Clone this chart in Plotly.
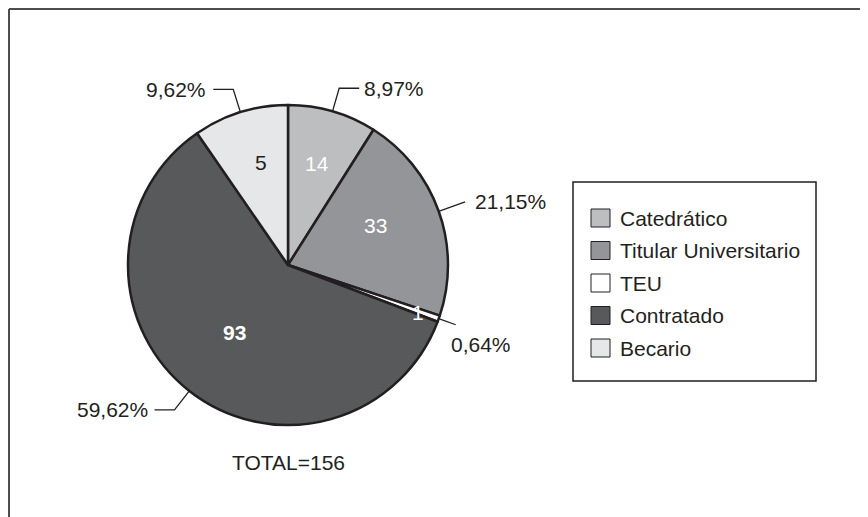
import math
import plotly.graph_objects as go

# ---------------- data ----------------
categories = ["Catedrático", "Titular Universitario", "TEU", "Contratado", "Becario"]
values = [14, 33, 1, 93, 15]
inside_labels = ["14", "33", "1", "93", "5"]
total_label = "TOTAL=156"

# ---------------- style / layout ----------------
W, H = 868, 517
OFF = 8  # page body margin: screen coords = figure coords + OFF
colors = ["#bcbec0", "#939598", "#ffffff", "#58595b", "#e6e7e8"]
ink = "#231f20"
inside_colors = ["white", "white", "white", "white", ink]
inside_bold = [False, False, False, True, False]
FONT = "Liberation Sans, Arial, Helvetica, sans-serif"
FS = 21

# all positions below are in screen pixels
CX, CY, R = 288, 265, 160

# leader line settings per slice: radial extension, horizontal run, label offset
lead_ext = [24, 28, 18, 24, 24]
lead_run = [20, 0, 0, 20, 20]
lab_dx = [3, 8, -7, -5, -5]
lab_dy = [0, 0, 20, 0, 0]
# inside label placement per slice: radius, angle offset (deg)
in_r = [106, 96, 138, 86, 106]
in_da = [0, -5, 0.5, 0, 2.5]

total = sum(values)


def pt(ang_deg, r):
    a = math.radians(ang_deg)
    return CX + r * math.sin(a), CY - r * math.cos(a)


fig = go.Figure()
fig.add_trace(go.Pie(
    labels=categories, values=values, sort=False, direction="clockwise",
    rotation=0, textinfo="none", hoverinfo="label+value+percent",
    marker=dict(colors=colors, line=dict(color=ink, width=2.5)),
    domain=dict(x=[(CX - OFF - R) / W, (CX - OFF + R) / W],
                y=[(H - (CY - OFF) - R) / H, (H - (CY - OFF) + R) / H]),
    showlegend=False,
))
fig.add_trace(go.Scatter(x=[None], y=[None], showlegend=False, hoverinfo="skip"))

shapes = []
annotations = []

# frame lines (figure border, top and left)
shapes.append(dict(type="line", xref="x", yref="y", x0=OFF + 1, y0=OFF + 1, x1=OFF + W, y1=OFF + 1,
                   line=dict(color="#4d4d4d", width=2)))
shapes.append(dict(type="line", xref="x", yref="y", x0=OFF + 1, y0=OFF + 1, x1=OFF + 1, y1=OFF + H,
                   line=dict(color="#4d4d4d", width=2)))

cum = 0
for i, v in enumerate(values):
    a0 = cum / total * 360
    cum += v
    a1 = cum / total * 360
    mid = (a0 + a1) / 2
    pct = f"{v / total * 100:.2f}".replace(".", ",") + "%"
    x0, y0 = pt(mid, R)
    x1, y1 = pt(mid, R + lead_ext[i])
    right = math.sin(math.radians(mid)) >= 0
    x2 = x1 + (lead_run[i] if right else -lead_run[i])
    path = f"M {x0} {y0} L {x1} {y1} L {x2} {y1}"
    shapes.append(dict(type="path", xref="x", yref="y", path=path,
                       line=dict(color=ink, width=1.3)))
    annotations.append(dict(
        x=x2 + lab_dx[i], y=y1 + lab_dy[i], xref="x", yref="y", text=pct,
        showarrow=False, xanchor="left" if right else "right", yanchor="middle",
        font=dict(family=FONT, size=FS, color=ink)))
    ix, iy = pt(mid + in_da[i], in_r[i])
    txt = f"<b>{inside_labels[i]}</b>" if inside_bold[i] else inside_labels[i]
    annotations.append(dict(
        x=ix, y=iy, xref="x", yref="y", text=txt, showarrow=False,
        xanchor="center", yanchor="middle",
        font=dict(family=FONT, size=FS, color=inside_colors[i])))

annotations.append(dict(x=CX, y=462, xref="x", yref="y", text=total_label,
                        showarrow=False, xanchor="center", yanchor="middle",
                        font=dict(family=FONT, size=FS, color=ink)))

# legend (drawn)
LX0, LY0, LX1, LY1 = 573, 182, 816, 381
shapes.append(dict(type="rect", xref="x", yref="y", x0=LX0, y0=LY0, x1=LX1, y1=LY1,
                   line=dict(color=ink, width=1.5), fillcolor="white", layer="below"))
for i, c in enumerate(categories):
    yc = LY0 + 36 + i * 32.5
    shapes.append(dict(type="rect", xref="x", yref="y", x0=591, x1=610,
                       y0=yc - 9, y1=yc + 9, fillcolor=colors[i],
                       line=dict(color=ink, width=1)))
    annotations.append(dict(x=618, y=yc, xref="x", yref="y", text=c,
                            showarrow=False, xanchor="left", yanchor="middle",
                            font=dict(family=FONT, size=FS, color=ink)))

fig.update_layout(
    width=W, height=H, margin=dict(l=0, r=0, t=0, b=0),
    paper_bgcolor="white", plot_bgcolor="rgba(0,0,0,0)",
    xaxis=dict(range=[OFF, OFF + W], visible=False, fixedrange=True, domain=[0, 1]),
    yaxis=dict(range=[OFF + H, OFF], visible=False, fixedrange=True, domain=[0, 1]),
    shapes=shapes, annotations=annotations, showlegend=False,
)
fig.write_html("out.html")
